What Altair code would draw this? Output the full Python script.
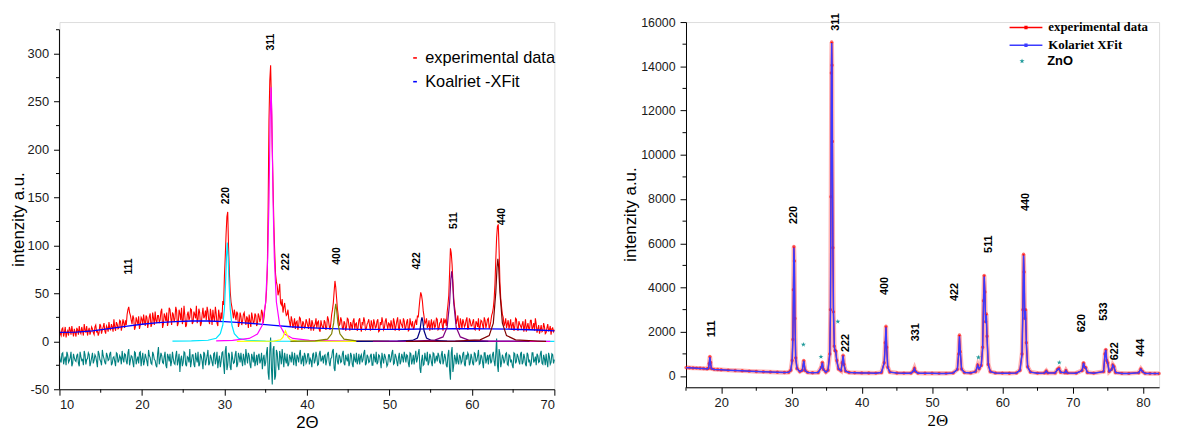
import altair as alt
import pandas as pd

# ================= LEFT PANEL DATA =================
# scan read at 2θ = 10.0, 10.2, ... 70.0 (left_obs / left_resid)
# and at 2θ = 10.1, 10.3, ... 69.9 (left_obs_mid / left_resid_mid)
L_START = 10.0
L_STEP = 0.2
left_obs = [
    12, 6, 14, 9, 4, 11, 15, 7, 10, 13,
    5, 12, 16, 8, 11, 18, 9, 6, 14, 10,
    13, 7, 17, 11, 9, 16, 12, 19, 8, 14,
    20, 12, 15, 23, 11, 18, 14, 21, 16, 19,
    22, 28, 36, 27, 18, 24, 15, 21, 26, 17,
    23, 28, 16, 25, 20, 29, 18, 24, 31, 19,
    27, 22, 34, 18, 26, 30, 21, 33, 17, 28,
    24, 32, 19, 29, 35, 22, 27, 17, 31, 25,
    33, 20, 28, 37, 23, 30, 19, 35, 26, 22,
    31, 18, 27, 33, 21, 29, 16, 26, 30, 42,
    68, 112, 135, 72, 41, 30, 33, 22, 29, 19,
    26, 21, 30, 17, 24, 28, 15, 25, 20, 27,
    18, 26, 23, 30, 25, 40, 75, 230, 288, 200,
    120, 70, 58, 52, 40, 44, 36, 32, 28, 24,
    15, 22, 18, 13, 21, 16, 24, 12, 19, 15,
    20, 13, 17, 22, 11, 18, 14, 21, 10, 17,
    13, 20, 15, 23, 12, 28, 40, 63, 45, 27,
    18, 22, 12, 19, 15, 23, 11, 17, 21, 13,
    19, 14, 24, 10, 18, 21, 13, 20, 16, 22,
    12, 19, 15, 23, 11, 17, 20, 14, 24, 13,
    18, 22, 12, 20, 16, 25, 11, 19, 14, 21,
    15, 23, 12, 18, 21, 14, 22, 27, 35, 51,
    42, 26, 20, 14, 22, 17, 12, 21, 16, 23,
    13, 20, 17, 24, 22, 30, 48, 97, 80, 45,
    30, 22, 16, 24, 13, 20, 17, 25, 14, 21,
    16, 23, 12, 19, 24, 15, 21, 13, 22, 18,
    24, 16, 27, 35, 60, 108, 122, 62, 36, 25,
    19, 14, 22, 17, 12, 20, 15, 23, 11, 18,
    14, 21, 16, 10, 19, 13, 22, 15, 11, 18,
    13, 8, 17, 11, 15, 9, 18, 12, 7, 14,
    12,
]
left_obs_mid = [
    8, 13, 5, 15, 9, 6, 12, 16, 5, 9,
    14, 7, 10, 15, 6, 12, 16, 11, 7, 15,
    9, 15, 10, 6, 18, 8, 15, 11, 16, 10,
    13, 18, 10, 15, 20, 13, 22, 11, 23, 14,
    17, 33, 30, 22, 27, 12, 25, 18, 13, 25,
    17, 21, 27, 14, 26, 15, 30, 17, 22, 27,
    20, 31, 14, 29, 21, 16, 35, 24, 30, 20,
    36, 16, 33, 22, 18, 37, 15, 28, 22, 34,
    18, 31, 24, 19, 34, 16, 28, 24, 32, 36,
    22, 34, 17, 25, 36, 19, 33, 21, 23, 38,
    88, 130, 98, 52, 36, 24, 27, 31, 15, 30,
    17, 28, 22, 26, 14, 21, 30, 19, 29, 16,
    29, 20, 33, 19, 34, 52, 140, 272, 250, 160,
    92, 62, 48, 60, 38, 30, 40, 27, 33, 20,
    26, 14, 24, 20, 12, 25, 17, 21, 14, 23,
    16, 24, 11, 19, 16, 24, 20, 12, 22, 15,
    22, 12, 26, 16, 19, 33, 52, 56, 34, 16,
    25, 14, 21, 11, 24, 16, 20, 12, 24, 18,
    11, 22, 15, 20, 25, 12, 18, 23, 11, 17,
    23, 14, 21, 10, 20, 25, 12, 21, 17, 19,
    13, 16, 24, 11, 21, 14, 23, 17, 24, 12,
    20, 11, 24, 16, 13, 20, 17, 25, 44, 48,
    32, 18, 24, 16, 11, 23, 19, 14, 24, 12,
    19, 24, 11, 20, 16, 38, 72, 92, 62, 36,
    18, 27, 12, 19, 23, 15, 22, 12, 24, 16,
    20, 13, 21, 15, 11, 22, 17, 25, 14, 23,
    13, 21, 30, 44, 85, 120, 95, 45, 28, 16,
    24, 18, 13, 23, 17, 11, 24, 14, 21, 16,
    18, 10, 23, 15, 13, 22, 12, 19, 24, 9,
    17, 12, 10, 19, 8, 14, 11, 16, 13, 10,
]
left_resid = [
    -15, -22, -12, -19, -25, -14, -20, -11, -23, -17,
    -21, -13, -26, -16, -19, -10, -24, -18, -14, -22,
    -12, -20, -16, -27, -13, -21, -9, -18, -24, -15,
    -19, -11, -23, -16, -26, -13, -20, -17, -10, -22,
    -14, -24, -8, -20, -16, -27, -12, -19, -23, -11,
    -18, -25, -13, -21, -9, -17, -24, -14, -20, -27,
    -6, -19, -15, -23, -11, -28, -16, -13, -21, -18,
    -24, -10, -20, -32, -15, -22, -12, -26, -17, -8,
    -21, -14, -27, -18, -11, -24, -16, -29, -13, -20,
    -9, -23, -17, -26, -12, -19, -28, -15, -21, -11,
    -34, -5, -25, -14, -30, -18, -22, -10, -24, -16,
    -12, -26, -19, -8, -23, -15, -28, -17, -11, -21,
    -25, -13, -20, -29, -14, -22, -6, -40, 4, -45,
    -5, -36, -12, -30, -16, -8, -27, -19, -13, -24,
    -17, -11, -25, -19, -14, -22, -9, -20, -26, -15,
    -21, -13, -18, -27, -12, -20, -16, -24, -10, -19,
    -23, -14, -20, -11, -26, -17, -8, -31, -12, -24,
    -16, -21, -10, -25, -18, -13, -22, -15, -27, -19,
    -12, -20, -24, -14, -19, -9, -23, -16, -21, -13,
    -25, -17, -11, -22, -15, -28, -18, -13, -20, -24,
    -14, -19, -9, -23, -16, -26, -12, -21, -17, -11,
    -22, -15, -27, -13, -20, -24, -10, -18, -8, -33,
    -14, -24, -18, -11, -22, -16, -26, -13, -19, -21,
    -15, -23, -10, -20, -17, -27, -9, -40, -6, -25,
    -18, -12, -24, -16, -21, -11, -26, -19, -14, -22,
    -17, -25, -13, -20, -9, -23, -16, -28, -12, -19,
    -24, -14, -21, -11, -26, 3, -32, -13, -22, -17,
    -20, -12, -25, -15, -19, -28, -13, -21, -16, -24,
    -11, -22, -17, -26, -14, -19, -23, -12, -20, -25,
    -15, -21, -10, -24, -18, -13, -27, -16, -22, -14,
    -19,
]
left_resid_mid = [
    -20, -13, -24, -16, -11, -22, -17, -26, -13, -20,
    -15, -23, -11, -20, -25, -14, -19, -12, -26, -17,
    -23, -14, -21, -10, -19, -25, -15, -22, -12, -20,
    -13, -25, -17, -21, -12, -22, -15, -24, -18, -13,
    -21, -12, -25, -15, -22, -11, -24, -16, -12, -26,
    -12, -21, -17, -26, -15, -23, -11, -19, -25, -13,
    -24, -12, -22, -16, -25, -13, -21, -26, -11, -23,
    -15, -25, -13, -19, -26, -11, -24, -16, -22, -27,
    -14, -24, -12, -22, -26, -13, -21, -11, -25, -15,
    -25, -14, -22, -13, -24, -11, -20, -27, -12, -24,
    -10, -30, -12, -27, -11, -23, -14, -27, -12, -22,
    -20, -13, -25, -16, -12, -24, -13, -22, -26, -14,
    -15, -23, -12, -18, -26, -12, -33, -10, -28, -8,
    -40, -9, -25, -10, -24, -18, -12, -23, -26, -14,
    -22, -18, -12, -26, -17, -13, -24, -15, -12, -23,
    -13, -24, -20, -14, -23, -11, -25, -13, -21, -15,
    -15, -25, -13, -22, -18, -10, -28, -16, -21, -14,
    -22, -13, -23, -14, -21, -26, -12, -24, -13, -22,
    -24, -13, -16, -22, -12, -25, -14, -22, -15, -25,
    -13, -22, -24, -14, -21, -12, -23, -16, -26, -14,
    -22, -12, -24, -13, -21, -17, -24, -13, -22, -16,
    -14, -23, -12, -24, -14, -17, -22, -12, -28, -20,
    -25, -12, -21, -25, -13, -22, -12, -23, -15, -12,
    -22, -14, -24, -13, -25, -14, -30, -12, -32, -14,
    -24, -21, -14, -23, -13, -24, -14, -12, -25, -13,
    -23, -12, -21, -15, -24, -14, -22, -12, -23, -14,
    -15, -23, -14, -21, -13, -25, -8, -27, -14, -23,
    -13, -24, -14, -22, -25, -12, -23, -13, -21, -13,
    -24, -13, -24, -12, -22, -26, -12, -22, -16, -13,
    -22, -13, -23, -14, -25, -21, -12, -24, -13, -23,
]
left_x = [round(L_START + L_STEP * i, 2) for i in range(len(left_obs))]
left_x_mid = [round(L_START + L_STEP / 2 + L_STEP * i, 2) for i in range(len(left_obs_mid))]

# background of the fit
bg_x = [10, 12, 14, 16, 18, 20, 22, 24, 26, 27, 28, 30, 32, 34, 36, 38, 40,
        42, 44, 46, 48, 50, 52, 55, 58, 60, 62, 65, 68, 70]
bg_y = [9.3, 9.6, 11, 13.2, 15.6, 17.8, 19.5, 20.6, 21.2, 21.4, 21.2, 20.6,
        19.6, 18.2, 16.6, 15.2, 14.2, 13.4, 12.9, 12.5, 12.4, 12.4, 12.6,
        12.9, 13.1, 13.1, 13.0, 12.6, 11.8, 10.8]

# fitted single reflections
p220_x = [23.7, 26, 28, 29, 29.5, 29.8, 30.0, 30.15, 30.25, 30.35, 30.45, 30.55,
          30.7, 30.9, 31.2, 31.7, 32.7, 35, 40, 50, 70]
p220_y = [0.2, 0.4, 1.1, 3.2, 8, 17, 34, 63, 88, 103, 88, 63, 34, 17, 8, 3.2,
          1.1, 0.3, 0.1, 0, 0]
p311_x = [29, 31, 33, 34, 34.6, 35.0, 35.25, 35.4, 35.55, 35.65, 35.75, 35.9,
          36.05, 36.3, 36.7, 37.3, 38.3, 40.3, 45, 55, 69.5]
p311_y = [0.5, 1, 3, 7.5, 17, 41, 87, 147, 235, 265, 235, 147, 87, 41, 17, 7.5,
          3, 1, 0.3, 0, 0]
p222_x = [31.5, 34, 36, 36.8, 37.1, 37.25, 37.4, 37.55, 37.7, 38.0, 38.8, 41, 46]
p222_y = [0, 0.1, 0.3, 1.6, 4.4, 8, 11, 8, 4.4, 1.6, 0.3, 0.1, 0]
p400_x = [38, 41, 42.5, 43.0, 43.25, 43.4, 43.5, 43.6, 43.75, 44.0, 44.5, 46, 50]
p400_y = [0, 0.4, 2.3, 7.8, 19.5, 33, 39, 33, 19.5, 7.8, 2.3, 0.4, 0]
p422_x = [46, 51, 52.8, 53.4, 53.7, 53.85, 53.95, 54.05, 54.2, 54.5, 55.1, 57, 62]
p422_y = [0, 0.2, 0.9, 3.4, 11, 21, 25, 21, 11, 3.4, 0.9, 0.2, 0]
p511_x = [48, 53, 55.5, 56.5, 57.0, 57.3, 57.45, 57.55, 57.65, 57.8, 58.1, 58.6,
          59.6, 62, 67]
p511_y = [0, 0.3, 1.3, 4.6, 14.6, 40, 65, 73, 65, 40, 14.6, 4.6, 1.3, 0.3, 0]
p440_x = [52, 58, 61, 62.1, 62.6, 62.9, 63.05, 63.15, 63.25, 63.4, 63.7, 64.2,
          65.3, 68, 69]
p440_y = [0, 0.3, 1.6, 6, 19, 51, 77, 86, 77, 51, 19, 6, 1.6, 0.3, 0]

left_hkl = ['111', '220', '311', '222', '400', '422', '511', '440']
left_hkl_x = [18.4, 30.2, 35.7, 37.5, 43.7, 53.4, 57.8, 63.6]
left_hkl_y = [78, 152, 312, 83, 89, 84, 126, 130]

left_x_ticks = [10, 20, 30, 40, 50, 60, 70]
left_x_minor = [15, 25, 35, 45, 55, 65]
left_y_ticks = [-50, 0, 50, 100, 150, 200, 250, 300]
left_y_minor = [-25, 25, 75, 125, 175, 225, 275, 325]
left_y_axis_span = [-50, 325]
left_series = ['experimental data', 'Koalriet -XFit']

# ================= RIGHT PANEL DATA =================
r_x = [15.0, 15.5, 16.0, 16.5, 17.0, 17.5, 18.0, 18.2, 18.3, 18.4,
       18.5, 18.6, 19.0, 19.5, 20.0, 21.0, 22.0, 23.0, 24.0, 25.0,
       26.0, 27.0, 28.0, 29.0, 29.6, 29.9, 30.1, 30.2, 30.28, 30.35,
       30.42, 30.5, 30.6, 30.8, 31.2, 31.55, 31.75, 31.95, 32.3, 33.0,
       33.8, 34.25, 34.4, 34.55, 34.9, 35.2, 35.45, 35.55, 35.62, 35.68,
       35.73, 35.78, 35.83, 35.9, 35.98, 36.1, 36.2, 36.3, 36.45, 36.7,
       37.05, 37.22, 37.35, 37.48, 37.7, 38.2, 39.0, 40.0, 41.0, 42.0,
       42.8, 43.2, 43.35, 43.45, 43.55, 43.7, 44.0, 45.0, 46.0, 47.0,
       47.35, 47.5, 47.65, 48.0, 49.0, 50.0, 51.0, 52.0, 53.0, 53.6,
       53.78, 53.9, 54.02, 54.2, 54.6, 55.5, 56.2, 56.5, 56.7, 57.0,
       57.2, 57.32, 57.42, 57.52, 57.62, 57.72, 57.82, 58.0, 58.3, 59.0,
       60.0, 61.0, 62.0, 62.5, 62.8, 62.92, 63.02, 63.1, 63.2, 63.3,
       63.42, 63.6, 64.0, 65.0, 66.0, 66.25, 66.45, 67.5, 67.85, 68.05,
       68.3, 68.9, 69.05, 69.25, 70.5, 71.35, 71.55, 71.7, 71.85, 72.1,
       73.0, 74.4, 74.6, 74.72, 74.85, 74.98, 75.2, 75.55, 75.72, 75.88,
       76.1, 77.0, 78.0, 79.4, 79.7, 79.95, 80.3, 81.0, 81.7, 82.3]
r_obs = [380, 372, 365, 356, 348, 338, 326, 345, 560, 880,
         610, 340, 300, 290, 280, 265, 250, 235, 220, 205,
         192, 180, 170, 162, 170, 260, 700, 1650, 3900, 5850,
         5200, 2600, 820, 340, 200, 260, 700, 250, 165, 150,
         160, 400, 620, 300, 180, 260, 1000, 3000, 8100, 13700,
         15100, 14050, 10600, 5800, 2900, 1350, 1150, 1120, 700, 320,
         240, 600, 940, 520, 220, 160, 150, 140, 135, 130,
         160, 600, 1500, 2250, 1300, 400, 180, 135, 130, 130,
         230, 350, 210, 130, 125, 122, 120, 120, 140, 300,
         1000, 1850, 1100, 320, 160, 140, 200, 500, 330, 480,
         1300, 3400, 4550, 3800, 2450, 2800, 1800, 520, 200, 140,
         130, 128, 140, 260, 1000, 3000, 5500, 4700, 2600, 3000,
         1500, 420, 180, 130, 140, 230, 140, 140, 300, 350,
         170, 150, 250, 140, 130, 250, 600, 400, 380, 160,
         130, 200, 1000, 1200, 700, 600, 200, 300, 500, 420,
         160, 120, 118, 150, 320, 200, 120, 115, 112, 110]
r_fit = [375, 368, 360, 352, 344, 335, 322, 340, 540, 860,
         590, 335, 298, 288, 278, 262, 248, 233, 218, 203,
         190, 178, 168, 160, 168, 250, 680, 1600, 3800, 5800,
         5100, 2550, 800, 330, 195, 250, 680, 240, 160, 148,
         158, 390, 600, 290, 175, 250, 980, 2950, 8000, 13600,
         15050, 13950, 10500, 5700, 2850, 1320, 1130, 1100, 680, 310,
         235, 580, 920, 500, 215, 158, 148, 138, 133, 128,
         155, 590, 1480, 2200, 1280, 390, 175, 132, 128, 128,
         225, 340, 205, 128, 123, 120, 118, 118, 138, 290,
         980, 1800, 1080, 310, 158, 138, 195, 490, 320, 470,
         1280, 3350, 4500, 3750, 2400, 2750, 1750, 500, 195, 138,
         128, 126, 138, 250, 980, 2950, 5450, 4650, 2550, 2950,
         1450, 410, 175, 128, 138, 225, 138, 138, 290, 340,
         165, 148, 245, 138, 128, 245, 590, 390, 370, 158,
         128, 195, 980, 1180, 690, 590, 195, 290, 490, 410,
         158, 118, 116, 148, 310, 195, 118, 113, 110, 108]

zno_x = [31.7, 34.2, 36.6, 56.6, 68.1]
zno_y = [1420, 870, 2460, 840, 610]

right_hkl = ['111', '220', '311', '222', '400', '331', '422', '511', '440',
             '620', '533', '622', '444']
right_hkl_x = [18.7, 30.3, 36.4, 37.8, 43.3, 47.75, 53.2, 58.1, 63.4, 71.3,
               74.5, 76.1, 79.8]
right_hkl_y = [2130, 7280, 16000, 1490, 4070, 1980, 3800, 5960, 7870, 2390,
               2910, 1120, 1280]

right_x_ticks = [20, 30, 40, 50, 60, 70, 80]
right_x_minor = [15, 25, 35, 45, 55, 65, 75]
right_y_ticks = [0, 2000, 4000, 6000, 8000, 10000, 12000, 14000, 16000]
right_y_minor = [1000, 3000, 5000, 7000, 9000, 11000, 13000, 15000]
right_series = ['experimental data', 'Kolariet XFit']

# ================= STYLE =================
SANS = 'Liberation Sans'
SERIF = 'Liberation Serif'
LW, LH = 500, 371
RW, RH = 478, 369

components = [
    (p220_x, p220_y, '#00e5ff'),
    (p311_x, p311_y, '#ff00ff'),
    (p222_x, p222_y, '#ffff00'),
    (p400_x, p400_y, '#808000'),
    (p422_x, p422_y, '#000080'),
    (p511_x, p511_y, '#800080'),
    (p440_x, p440_y, '#800000'),
]


def axis_common(**kw):
    base = dict(grid=False, domainColor='black', tickColor='black',
                labelColor='#1a1a1a', labelFont=SANS, labelFontSize=13,
                tickSize=6, labelExpr="'' + datum.value",
                titleColor='black', titleFontWeight='normal', titleFontSize=17)
    base.update(kw)
    return alt.Axis(**base)


# ---------------- LEFT ----------------
lx_scale = alt.Scale(domain=[10, 70], nice=False, zero=False)
ly_scale = alt.Scale(domain=[-50, 333], nice=False, zero=False)
ax_lx = axis_common(values=left_x_ticks, title='2Θ', titleFont=SANS,
                    labelPadding=3, titlePadding=4)
ax_ly = axis_common(values=left_y_ticks, title='intenzity a.u.', titleFont=SANS,
                    labelPadding=5, titlePadding=0, titleY=199, domain=False)

X_L = alt.X('x:Q', scale=lx_scale, axis=ax_lx)
Y_L = alt.Y('y:Q', scale=ly_scale, axis=ax_ly)

left_color = alt.Color(
    's:N',
    scale=alt.Scale(domain=left_series, range=['#ff0000', '#0000ff']),
    legend=alt.Legend(orient='none', legendX=351, legendY=28, title=None,
                      symbolType='stroke', symbolSize=14, symbolStrokeWidth=1.6,
                      labelFont=SANS, labelFontSize=16.5, labelFontWeight='normal',
                      labelColor='black', labelOffset=2, rowPadding=7, padding=0))

exp_df = pd.concat([
    pd.DataFrame({'x': left_x, 'y': left_obs}),
    pd.DataFrame({'x': left_x_mid, 'y': left_obs_mid}),
]).sort_values('x')
exp_df['s'] = left_series[0]
res_df = pd.concat([
    pd.DataFrame({'x': left_x, 'y': left_resid}),
    pd.DataFrame({'x': left_x_mid, 'y': left_resid_mid}),
]).sort_values('x')
bg_df = pd.DataFrame({'x': bg_x, 'y': bg_y, 's': left_series[1]})

l_layers = [
    alt.Chart(exp_df).mark_line(strokeWidth=1.1).encode(x=X_L, y=Y_L, color=left_color),
    alt.Chart(res_df).mark_line(strokeWidth=1.1, color='#008080').encode(x=X_L, y=Y_L),
    alt.Chart(bg_df).mark_line(strokeWidth=1.3).encode(x=X_L, y=Y_L, color=left_color),
]
for cx, cy, col in components:
    l_layers.append(alt.Chart(pd.DataFrame({'x': cx, 'y': cy}))
                    .mark_line(strokeWidth=1.2, color=col).encode(x=X_L, y=Y_L))

l_layers.append(
    alt.Chart(pd.DataFrame({'x': left_hkl_x, 'y': left_hkl_y, 't': left_hkl}))
    .mark_text(angle=270, font=SANS, fontSize=10.5, fontWeight='bold', color='black')
    .encode(x=X_L, y=Y_L, text='t:N'))
l_layers.append(
    alt.Chart(pd.DataFrame({'x': left_x_minor}))
    .mark_rule(color='black', strokeWidth=1)
    .encode(x=X_L, y=alt.value(LH), y2=alt.value(LH + 3.5)))
l_layers.append(
    alt.Chart(pd.DataFrame({'y': left_y_minor}))
    .mark_rule(color='black', strokeWidth=1)
    .encode(y=Y_L, x=alt.value(0), x2=alt.value(-3.5)))
l_layers.append(
    alt.Chart(pd.DataFrame({'y': [left_y_axis_span[0]], 'y2': [left_y_axis_span[1]]}))
    .mark_rule(color='black', strokeWidth=1)
    .encode(y=Y_L, y2='y2:Q', x=alt.value(0)))

left = alt.layer(*l_layers).properties(width=LW, height=LH)

# ---------------- RIGHT ----------------
rx_scale = alt.Scale(domain=[15, 82.3], nice=False, zero=False)
ry_scale = alt.Scale(domain=[-510, 16000], nice=False, zero=False)
ax_rx = axis_common(values=right_x_ticks, title='2Θ', titleFont=SERIF,
                    labelPadding=3, titlePadding=4, titleX=254)
ax_ry = axis_common(values=right_y_ticks, title='intenzity a.u.', titleFont=SANS,
                    labelPadding=5, labelFontSize=12.5, titlePadding=1, titleY=194)
X_R = alt.X('x:Q', scale=rx_scale, axis=ax_rx)
Y_R = alt.Y('y:Q', scale=ry_scale, axis=ax_ry)

right_color = alt.Color(
    'rs:N',
    scale=alt.Scale(domain=right_series, range=['#ff0000', '#3b3bff']),
    legend=alt.Legend(orient='none', legendX=337, legendY=-1, title=None,
                      symbolType='M-5,0H5M-0.25,-0.3H0.25V0.3H-0.25Z',
                      symbolSize=44, symbolStrokeWidth=1.6,
                      labelFont=SERIF, labelFontWeight='bold', labelFontSize=13,
                      labelColor='black', labelOffset=16, rowPadding=4, padding=0))

STAR = ('M0,-1L0.2245,-0.309L0.951,-0.309L0.363,0.118L0.588,0.809L0,0.382'
        'L-0.588,0.809L-0.363,0.118L-0.951,-0.309L-0.2245,-0.309Z')
zno_shape = alt.Shape(
    'zs:N', scale=alt.Scale(domain=['ZnO'], range=[STAR]),
    legend=alt.Legend(orient='none', legendX=333, legendY=33, title=None,
                      symbolSize=30, symbolFillColor='#1f9a9a',
                      symbolStrokeColor='#1f9a9a', labelFont=SANS,
                      labelFontWeight='bold', labelFontSize=13, labelColor='black',
                      labelOffset=19, padding=0))

robs_df = pd.DataFrame({'x': r_x, 'y': r_obs, 'rs': right_series[0]})
rfit_df = pd.DataFrame({'x': r_x, 'y': r_fit, 'rs': right_series[1]})
zno_df = pd.DataFrame({'x': zno_x, 'y': zno_y, 'zs': 'ZnO'})

r_layers = [
    alt.Chart(robs_df).mark_line(strokeWidth=4.5, color='#ff0000', opacity=0.3)
    .encode(x=X_R, y=Y_R),
    alt.Chart(robs_df).mark_line(strokeWidth=1.2).encode(x=X_R, y=Y_R, color=right_color),
    alt.Chart(robs_df).mark_circle(size=12, color='#ff0000', opacity=0.6)
    .encode(x=X_R, y=Y_R),
    alt.Chart(rfit_df).mark_line(strokeWidth=1.5).encode(x=X_R, y=Y_R, color=right_color),
    alt.Chart(zno_df).mark_point(filled=True, size=28, color='#1f9a9a', opacity=1)
    .encode(x=X_R, y=Y_R, shape=zno_shape),
    alt.Chart(pd.DataFrame({'x': right_hkl_x, 'y': right_hkl_y, 't': right_hkl}))
    .mark_text(angle=270, font=SANS, fontSize=11, fontWeight='bold', color='black')
    .encode(x=X_R, y=Y_R, text='t:N'),
    alt.Chart(pd.DataFrame({'x': right_x_minor}))
    .mark_rule(color='black', strokeWidth=1)
    .encode(x=X_R, y=alt.value(RH), y2=alt.value(RH + 3.5)),
    alt.Chart(pd.DataFrame({'y': right_y_minor}))
    .mark_rule(color='black', strokeWidth=1)
    .encode(y=Y_R, x=alt.value(0), x2=alt.value(-3.5)),
]
right = alt.layer(*r_layers).properties(width=RW, height=RH)

chart = (
    alt.hconcat(left, right, spacing=133, bounds='flush')
    .resolve_scale(color='independent', shape='independent')
    .resolve_legend(color='independent', shape='independent')
    .properties(padding={'left': 0, 'top': 2, 'right': 0, 'bottom': 0})
    .configure_view(stroke=None)
    .configure(background='white')
)

chart.save('out.html', embed_options={'renderer': 'svg', 'actions': False})
